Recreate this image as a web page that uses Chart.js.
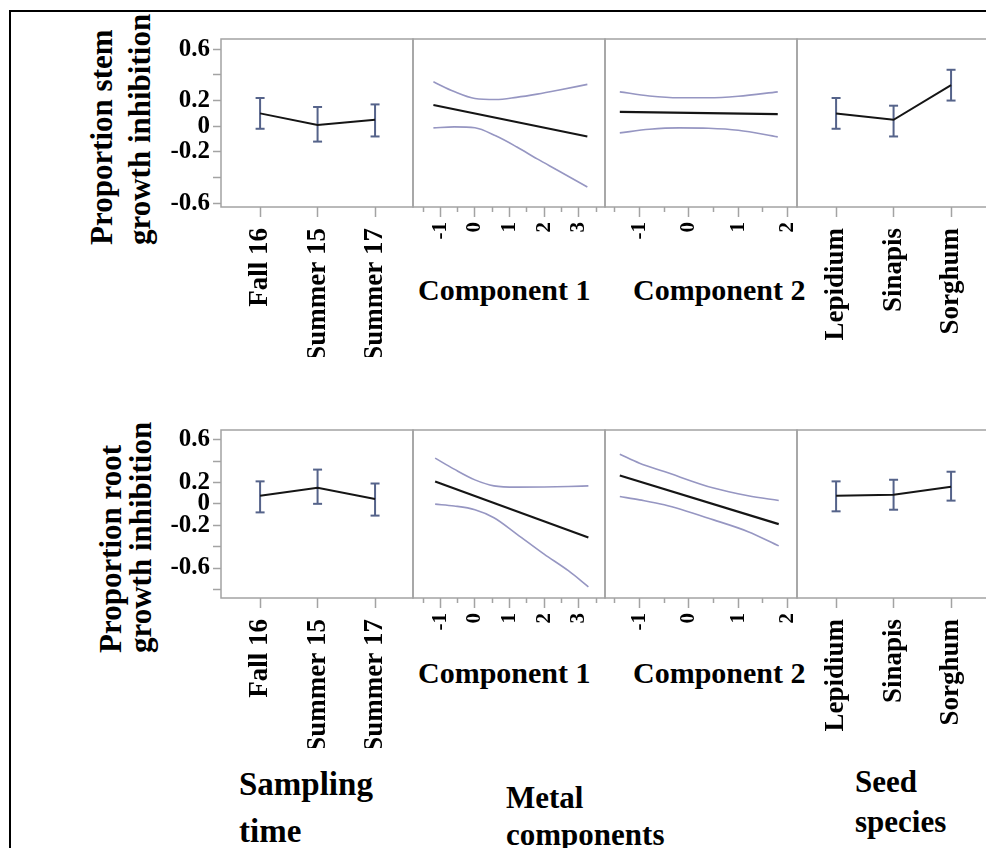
<!DOCTYPE html>
<html>
<head>
<meta charset="utf-8">
<title>Stem and root growth inhibition profiles</title>
<script src="https://cdn.jsdelivr.net/npm/chart.js@4.4.1/dist/chart.umd.min.js"></script>
<style>
  html, body { margin: 0; padding: 0; background: #fff; overflow: hidden; }
  #page { position: relative; width: 986px; height: 848px; overflow: hidden; background: #fff; }
  #page canvas { position: absolute; left: 0; top: 0; }
  .frame { position: absolute; left: 9px; top: 10px; width: 1100px; height: 1000px; border: 2px solid #000; }
  .txt { position: absolute; font-family: "Liberation Serif", "Times New Roman", serif; font-weight: bold; color: #000; white-space: nowrap; }
  .t31 { font-size: 31px; line-height: 31px; }
  .t30 { font-size: 30px; line-height: 30px; }
  .t33 { font-size: 33px; line-height: 33px; }
  .vert { transform-origin: 0 0; transform: rotate(-90deg); }
</style>
</head>
<body>
<div id="page">
  <div class="frame"></div>

  <div class="txt t31 vert" style="left:86px; top:245px;">Proportion stem</div>
  <div class="txt t31 vert" style="left:124px; top:245px;">growth inhibition</div>
  <div class="txt t31 vert" style="left:95px; top:653px;">Proportion root</div>
  <div class="txt t31 vert" style="left:125px; top:653px;">growth inhibition</div>

  <div class="txt t30" style="left:418px; top:275px;">Component 1</div>
  <div class="txt t30" style="left:633px; top:275px;">Component 2</div>
  <div class="txt t30" style="left:418px; top:658px;">Component 1</div>
  <div class="txt t30" style="left:633px; top:658px;">Component 2</div>

  <div class="txt t33" style="left:239px; top:768px;">Sampling</div>
  <div class="txt t33" style="left:239px; top:815px;">time</div>
  <div class="txt t31" style="left:506px; top:782px;">Metal</div>
  <div class="txt t31" style="left:506px; top:819px;">components</div>
  <div class="txt t31" style="left:855px; top:766px;">Seed</div>
  <div class="txt t31" style="left:855px; top:806px;">species</div>
</div>

<script>
// factor levels
const samplingTimes = ['Fall 16', 'Summer 15', 'Summer 17'];
const seedSpecies = ['Lepidium', 'Sinapis', 'Sorghum'];

// stem growth inhibition: means with interval limits
const stemTimeMean = [0.10, 0.01, 0.05];
const stemTimeLow = [-0.02, -0.12, -0.08];
const stemTimeHigh = [0.22, 0.15, 0.17];
const stemSeedMean = [0.10, 0.05, 0.32];
const stemSeedLow = [-0.02, -0.08, 0.20];
const stemSeedHigh = [0.22, 0.16, 0.44];

// stem vs metal components: fitted line and confidence band
const stemC1X = [-1.2, -0.6, 0, 0.6, 1.2, 1.8, 2.4, 3.25];
const stemC1Upper = [0.346, 0.27, 0.216, 0.208, 0.225, 0.25, 0.28, 0.326];
const stemC1Lower = [-0.013, -0.005, -0.012, -0.075, -0.16, -0.255, -0.345, -0.474];
const stemC1FitX = [-1.2, 3.25];
const stemC1Fit = [0.165, -0.08];

const stemC2X = [-1.4, -0.8, -0.2, 0.4, 1.0, 1.8];
const stemC2Upper = [0.268, 0.236, 0.222, 0.222, 0.234, 0.268];
const stemC2Lower = [-0.052, -0.024, -0.013, -0.016, -0.032, -0.083];
const stemC2FitX = [-1.4, 1.8];
const stemC2Fit = [0.112, 0.094];

// root growth inhibition
const rootTimeMean = [0.075, 0.15, 0.045];
const rootTimeLow = [-0.08, 0.0, -0.11];
const rootTimeHigh = [0.21, 0.32, 0.19];
const rootSeedMean = [0.075, 0.085, 0.16];
const rootSeedLow = [-0.07, -0.055, 0.03];
const rootSeedHigh = [0.21, 0.225, 0.30];

const rootC1X = [-1.15, -0.6, 0, 0.55, 1.2, 2.0, 2.7, 3.28];
const rootC1Upper = [0.427, 0.324, 0.224, 0.168, 0.156, 0.158, 0.162, 0.168];
const rootC1Lower = [-0.003, -0.02, -0.055, -0.13, -0.28, -0.47, -0.625, -0.775];
const rootC1FitX = [-1.15, 3.28];
const rootC1Fit = [0.209, -0.315];

const rootC2X = [-1.4, -1.0, -0.5, 0.5, 1.2, 1.82];
const rootC2Upper = [0.464, 0.38, 0.302, 0.147, 0.075, 0.031];
const rootC2Lower = [0.068, 0.037, -0.009, -0.15, -0.26, -0.393];
const rootC2FitX = [-1.4, 1.82];
const rootC2Fit = [0.265, -0.19];

// axis ticks
const factorTicks = [0, 1, 2];
const comp1Ticks = [-1.5, -1, -0.5, 0, 0.5, 1, 1.5, 2, 2.5, 3, 3.5];
const comp2Ticks = [-1.5, -1, -0.5, 0, 0.5, 1, 1.5, 2];
const stemYTicks = [0.6, 0.4, 0.2, 0, -0.2, -0.4, -0.6];
const rootYTicks = [0.6, 0.4, 0.2, 0, -0.2, -0.4, -0.6, -0.8];
const unlabeledY = [0.4, -0.4, -0.8];

// ---- layout ----
const W = 1000, H = 848, AXIS_H = 150, YAXIS_W = 60;
const cols = { time: [221, 413], comp1: [413, 605], comp2: [605, 797], seed: [797, 989] };
const rows = { stem: [39, 207], root: [430, 598] };
const xRange = { time: [-0.68, 2.66], seed: [-0.68, 2.66], comp1: [-1.79, 3.76], comp2: [-1.70, 2.19] };
const yRange = { stem: [-0.63, 0.68], root: [-0.88, 0.69] };

const SERIF = '"Liberation Serif", "Times New Roman", serif';
const GREY = '#a3a3a3';
const FIT = '#151515';
const BAND = 'rgb(150, 150, 194)';
const ERR = '#55638a';

const panelFrame = {
  id: 'panelFrame',
  beforeDatasetsDraw(chart) {
    const { ctx, chartArea: a } = chart;
    ctx.save();
    ctx.strokeStyle = GREY;
    ctx.lineWidth = 1.5;
    ctx.strokeRect(a.left, a.top, a.width, a.height);
    ctx.restore();
  }
};

function pts(xs, ys) {
  return xs.map((x, i) => ({ x, y: ys[i] }));
}

function factorSets(mean, low, high) {
  const bars = [];
  mean.forEach((m, i) => {
    bars.push({ x: i, y: low[i] }, { x: i, y: high[i] }, { x: i, y: null });
  });
  return [
    { data: pts(factorTicks, mean), borderColor: FIT, borderWidth: 2, pointRadius: 0, order: 0 },
    { data: bars, borderColor: ERR, borderWidth: 2, spanGaps: false,
      pointStyle: 'line', pointRadius: 4.5, pointBorderWidth: 2, pointBorderColor: ERR, order: 1 }
  ];
}

function curveSets(xs, upper, lower, fitX, fit) {
  const band = { borderColor: BAND, borderWidth: 1.6, pointRadius: 0, cubicInterpolationMode: 'monotone', order: 1 };
  return [
    { data: pts(fitX, fit), borderColor: FIT, borderWidth: 2.2, pointRadius: 0, order: 0 },
    Object.assign({ data: pts(xs, upper) }, band),
    Object.assign({ data: pts(xs, lower) }, band)
  ];
}

function panel(rowKey, colKey, datasets) {
  const canvas = document.createElement('canvas');
  canvas.width = W;
  canvas.height = H;
  document.getElementById('page').appendChild(canvas);

  const [left, right] = cols[colKey];
  const [top, bottom] = rows[rowKey];
  const showY = colKey === 'time';
  const isFactor = colKey === 'time' || colKey === 'seed';
  const levels = colKey === 'time' ? samplingTimes : seedSpecies;
  const xTicks = isFactor ? factorTicks : (colKey === 'comp1' ? comp1Ticks : comp2Ticks);
  const yTicks = rowKey === 'stem' ? stemYTicks : rootYTicks;

  new Chart(canvas, {
    type: 'line',
    data: { datasets },
    options: {
      responsive: false,
      animation: false,
      events: [],
      layout: {
        padding: { left: showY ? left - YAXIS_W : left, right: W - right, top, bottom: H - bottom - AXIS_H }
      },
      plugins: { legend: { display: false }, tooltip: { enabled: false } },
      scales: {
        x: {
          type: 'linear',
          min: xRange[colKey][0],
          max: xRange[colKey][1],
          afterBuildTicks: s => { s.ticks = xTicks.map(v => ({ value: v })); },
          afterFit: s => { s.height = AXIS_H; },
          border: { display: false },
          grid: {
            drawOnChartArea: false,
            tickLength: 10,
            tickColor: GREY,
            tickWidth: 1.5,
            tickBorderDash: c => (!isFactor && c.tick && !Number.isInteger(c.tick.value)) ? [5, 30] : []
          },
          ticks: {
            autoSkip: false,
            minRotation: 90,
            maxRotation: 90,
            padding: isFactor ? 11 : 5,
            color: '#000',
            font: { family: SERIF, size: isFactor ? 27 : 21, weight: 'bold' },
            callback: v => isFactor ? (levels[v] || '') : (Number.isInteger(v) ? String(v) : '')
          }
        },
        y: {
          type: 'linear',
          display: showY,
          min: yRange[rowKey][0],
          max: yRange[rowKey][1],
          afterBuildTicks: s => { s.ticks = yTicks.map(v => ({ value: v })); },
          afterFit: s => { s.width = showY ? YAXIS_W : 0; },
          border: { display: false },
          grid: { drawOnChartArea: false, tickLength: 8, tickColor: GREY, tickWidth: 1.5 },
          ticks: {
            autoSkip: false,
            padding: 3,
            color: '#000',
            font: { family: SERIF, size: 25, weight: 'bold' },
            callback: v => unlabeledY.includes(v) ? '' : String(v)
          }
        }
      }
    },
    plugins: [panelFrame]
  });
}

panel('stem', 'time', factorSets(stemTimeMean, stemTimeLow, stemTimeHigh));
panel('stem', 'comp1', curveSets(stemC1X, stemC1Upper, stemC1Lower, stemC1FitX, stemC1Fit));
panel('stem', 'comp2', curveSets(stemC2X, stemC2Upper, stemC2Lower, stemC2FitX, stemC2Fit));
panel('stem', 'seed', factorSets(stemSeedMean, stemSeedLow, stemSeedHigh));

panel('root', 'time', factorSets(rootTimeMean, rootTimeLow, rootTimeHigh));
panel('root', 'comp1', curveSets(rootC1X, rootC1Upper, rootC1Lower, rootC1FitX, rootC1Fit));
panel('root', 'comp2', curveSets(rootC2X, rootC2Upper, rootC2Lower, rootC2FitX, rootC2Fit));
panel('root', 'seed', factorSets(rootSeedMean, rootSeedLow, rootSeedHigh));
</script>
</body>
</html>
